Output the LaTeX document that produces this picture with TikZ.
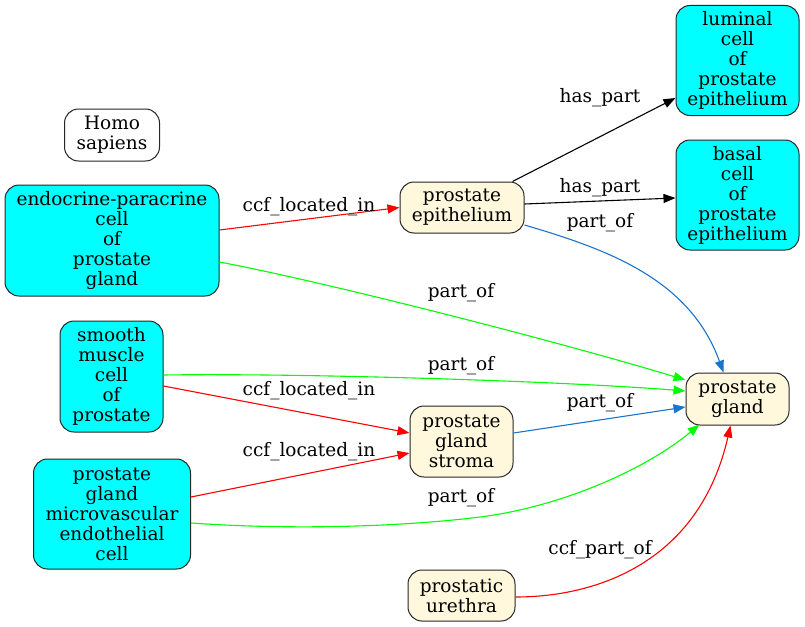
\documentclass[tikz,border=0pt]{standalone}
\usepackage{fontspec}
\setmainfont{DejaVu Serif}
\usetikzlibrary{arrows.meta}
\definecolor{cornsilk}{HTML}{FFF8DC}
\definecolor{cyanfill}{HTML}{00FFFF}
\definecolor{edgeblue}{HTML}{1874CD}
\definecolor{edgegreen}{HTML}{00FF00}
\definecolor{edgered}{HTML}{FF0000}
\newcommand\lblfont{\fontsize{18.5}{20}\selectfont}
\tikzset{
  basebox/.style={draw=black!85, line width=1pt, rounded corners=14pt, align=center, font=\lblfont, inner sep=0pt},
  cyanbox/.style={basebox, fill=cyanfill},
  creambox/.style={basebox, fill=cornsilk},
  whitebox/.style={basebox, fill=white},
  conn/.style={line width=1.1pt, -{Triangle[length=12pt,width=9pt]}},
  lab/.style={font=\lblfont, inner sep=0pt}
}
\begin{document}
\begin{tikzpicture}[x=1pt,y=-1pt]
\useasboundingbox (0,0) rectangle (805,626);
% nodes
\node[whitebox, minimum width=95pt, minimum height=52pt] (homo) at (112,135) {Homo\\sapiens};
\node[cyanbox, minimum width=214pt, minimum height=111pt] (endo) at (112,240.5) {endocrine-paracrine\\cell\\of\\prostate\\gland};
\node[cyanbox, minimum width=103pt, minimum height=111pt] (smooth) at (111.5,376.5) {smooth\\muscle\\cell\\of\\prostate};
\node[cyanbox, minimum width=157pt, minimum height=110pt] (micro) at (112,514) {prostate\\gland\\microvascular\\endothelial\\cell};
\node[creambox, minimum width=124pt, minimum height=51pt] (epi) at (462,207.5) {prostate\\epithelium};
\node[creambox, minimum width=103pt, minimum height=71pt] (stroma) at (461.5,441.5) {prostate\\gland\\stroma};
\node[creambox, minimum width=107pt, minimum height=51pt] (urethra) at (461.5,595.5) {prostatic\\urethra};
\node[cyanbox, minimum width=123pt, minimum height=110pt] (luminal) at (737.5,60.5) {luminal\\cell\\of\\prostate\\epithelium};
\node[cyanbox, minimum width=123pt, minimum height=110pt] (basal) at (737.5,195) {basal\\cell\\of\\prostate\\epithelium};
\node[creambox, minimum width=103pt, minimum height=52pt] (gland) at (737.5,399) {prostate\\gland};
% edges
\draw[conn, edgered] ([yshift=10.5pt]endo.east) -- (epi.west);
\draw[conn, edgegreen] ([yshift=-21.5pt]endo.east) .. controls (330,283) and (560,342) .. ([yshift=19pt]gland.west);
\draw[conn, edgegreen] ([yshift=1.5pt]smooth.east) .. controls (300,373) and (560,381) .. ([yshift=8pt]gland.west);
\draw[conn, edgered] ([yshift=-9.5pt]smooth.east) -- ([yshift=8.5pt]stroma.west);
\draw[conn, edgered] ([yshift=17pt]micro.east) -- ([yshift=-11.5pt]stroma.west);
\coordinate (gmid) at (480,517);
\draw[conn, edgegreen] ([yshift=-9pt]micro.east) .. controls (290,530) and (400,527) .. (gmid) .. controls (560,507) and (645,470) .. ([xshift=14pt,yshift=1pt]gland.south west);
\draw[conn, edgered] ([yshift=-1.5pt]urethra.east) .. controls (600,597) and (700,560) .. ([xshift=-7pt]gland.south);
\draw[conn, edgeblue] ([yshift=8.5pt]stroma.east) -- ([yshift=-8pt]gland.west);
\draw[conn, black] ([xshift=-12pt]epi.north east) -- ([yshift=-37.5pt]luminal.west);
\draw[conn, black] ([yshift=3.5pt]epi.east) -- ([yshift=-3pt]basal.west);
\draw[conn, edgeblue] ([yshift=-17.5pt]epi.east) .. controls (610,250) and (690,280) .. ([xshift=-14pt]gland.north);
% labels
\node[lab] (l1) at (309,207) {ccf\_located\_in};
\node[lab] (l2) at (461,293) {part\_of};
\node[lab] (l3) at (461,366) {part\_of};
\node[lab] (l4) at (309,391) {ccf\_located\_in};
\node[lab] (l5) at (309,452) {ccf\_located\_in};
\node[lab] (l6) at (461,498) {part\_of};
\node[lab] (l7) at (600,550) {ccf\_part\_of};
\node[lab] (l8) at (600,403) {part\_of};
\node[lab] (l9) at (600,223) {part\_of};
\node[lab] (l10) at (600,188) {has\_part};
\node[lab] (l11) at (600,98) {has\_part};
\end{tikzpicture}
\end{document}
